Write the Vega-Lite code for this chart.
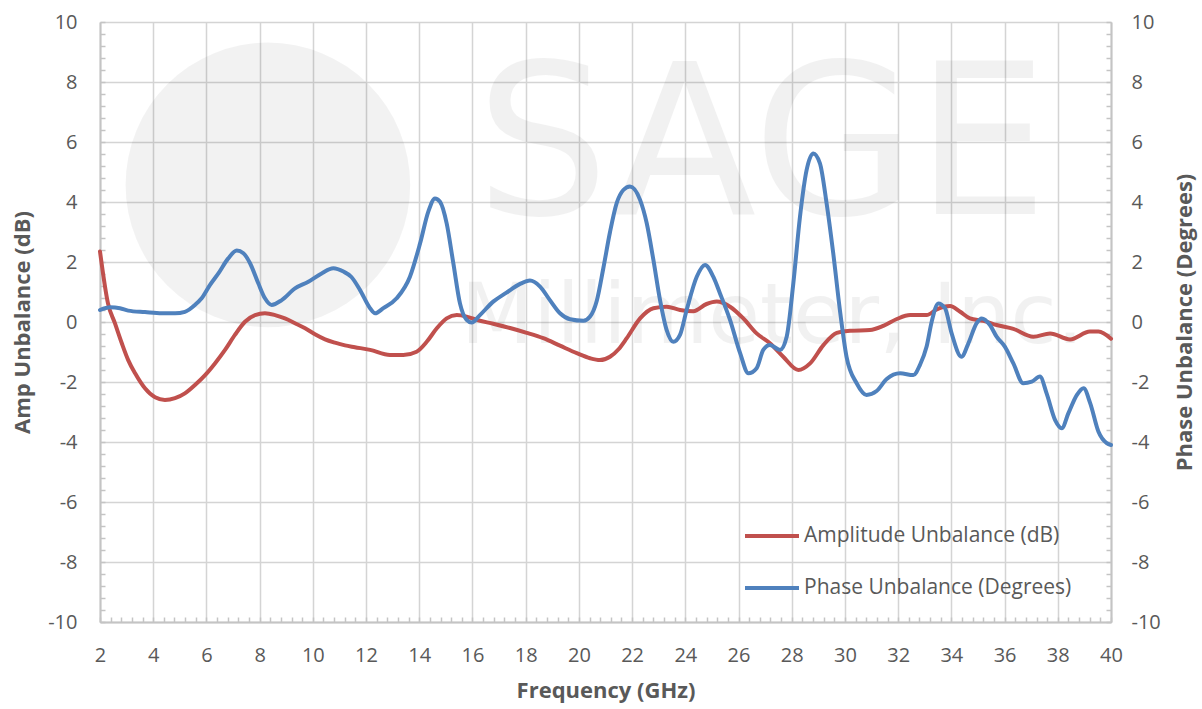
{
  "$schema": "https://vega.github.io/schema/vega-lite/v6.json",
  "width": 1011,
  "height": 600,
  "autosize": {"type": "none"},
  "padding": {"left": 100, "top": 22, "right": 91, "bottom": 87},
  "background": "white",
  "config": {
    "font": "Open Sans",
    "view": {"stroke": null},
    "axis": {
      "labelFont": "Open Sans",
      "labelFontSize": 20,
      "labelColor": "#595959",
      "titleFont": "Open Sans",
      "titleFontSize": 22,
      "titleFontWeight": "bold",
      "titleColor": "#595959",
      "domainColor": "#c4c4c4",
      "domainWidth": 2,
      "gridColor": "#d4d4d4",
      "gridWidth": 1.5,
      "tickColor": "#c4c4c4",
      "tickWidth": 1.5,
      "tickSize": -5,
      "tickCount": 500,
      "labelOverlap": false,
      "labelFlush": false,
      "labelBound": false
    }
  },
  "datasets": {
    "amp": [
      {"f": 2.0, "v": 2.35, "s": "Amplitude Unbalance (dB)"},
      {"f": 2.3, "v": 0.62, "s": "Amplitude Unbalance (dB)"},
      {"f": 2.56, "v": -0.04, "s": "Amplitude Unbalance (dB)"},
      {"f": 2.82, "v": -0.71, "s": "Amplitude Unbalance (dB)"},
      {"f": 3.06, "v": -1.27, "s": "Amplitude Unbalance (dB)"},
      {"f": 3.32, "v": -1.71, "s": "Amplitude Unbalance (dB)"},
      {"f": 3.69, "v": -2.21, "s": "Amplitude Unbalance (dB)"},
      {"f": 4.07, "v": -2.51, "s": "Amplitude Unbalance (dB)"},
      {"f": 4.44, "v": -2.6, "s": "Amplitude Unbalance (dB)"},
      {"f": 4.82, "v": -2.54, "s": "Amplitude Unbalance (dB)"},
      {"f": 5.19, "v": -2.38, "s": "Amplitude Unbalance (dB)"},
      {"f": 5.57, "v": -2.1, "s": "Amplitude Unbalance (dB)"},
      {"f": 5.95, "v": -1.77, "s": "Amplitude Unbalance (dB)"},
      {"f": 6.32, "v": -1.38, "s": "Amplitude Unbalance (dB)"},
      {"f": 6.7, "v": -0.93, "s": "Amplitude Unbalance (dB)"},
      {"f": 7.07, "v": -0.43, "s": "Amplitude Unbalance (dB)"},
      {"f": 7.45, "v": 0.01, "s": "Amplitude Unbalance (dB)"},
      {"f": 7.83, "v": 0.23, "s": "Amplitude Unbalance (dB)"},
      {"f": 8.2, "v": 0.29, "s": "Amplitude Unbalance (dB)"},
      {"f": 8.58, "v": 0.23, "s": "Amplitude Unbalance (dB)"},
      {"f": 8.95, "v": 0.12, "s": "Amplitude Unbalance (dB)"},
      {"f": 9.33, "v": -0.04, "s": "Amplitude Unbalance (dB)"},
      {"f": 9.71, "v": -0.21, "s": "Amplitude Unbalance (dB)"},
      {"f": 10.08, "v": -0.41, "s": "Amplitude Unbalance (dB)"},
      {"f": 10.46, "v": -0.58, "s": "Amplitude Unbalance (dB)"},
      {"f": 10.83, "v": -0.69, "s": "Amplitude Unbalance (dB)"},
      {"f": 11.21, "v": -0.78, "s": "Amplitude Unbalance (dB)"},
      {"f": 11.58, "v": -0.84, "s": "Amplitude Unbalance (dB)"},
      {"f": 12.15, "v": -0.93, "s": "Amplitude Unbalance (dB)"},
      {"f": 12.9, "v": -1.1, "s": "Amplitude Unbalance (dB)"},
      {"f": 13.4, "v": -1.1, "s": "Amplitude Unbalance (dB)"},
      {"f": 13.9, "v": -0.99, "s": "Amplitude Unbalance (dB)"},
      {"f": 14.28, "v": -0.66, "s": "Amplitude Unbalance (dB)"},
      {"f": 14.66, "v": -0.21, "s": "Amplitude Unbalance (dB)"},
      {"f": 15.03, "v": 0.12, "s": "Amplitude Unbalance (dB)"},
      {"f": 15.41, "v": 0.23, "s": "Amplitude Unbalance (dB)"},
      {"f": 15.78, "v": 0.18, "s": "Amplitude Unbalance (dB)"},
      {"f": 16.16, "v": 0.07, "s": "Amplitude Unbalance (dB)"},
      {"f": 16.78, "v": -0.06, "s": "Amplitude Unbalance (dB)"},
      {"f": 17.41, "v": -0.2, "s": "Amplitude Unbalance (dB)"},
      {"f": 18.04, "v": -0.36, "s": "Amplitude Unbalance (dB)"},
      {"f": 18.66, "v": -0.54, "s": "Amplitude Unbalance (dB)"},
      {"f": 19.29, "v": -0.79, "s": "Amplitude Unbalance (dB)"},
      {"f": 19.92, "v": -1.04, "s": "Amplitude Unbalance (dB)"},
      {"f": 20.42, "v": -1.21, "s": "Amplitude Unbalance (dB)"},
      {"f": 20.79, "v": -1.27, "s": "Amplitude Unbalance (dB)"},
      {"f": 21.17, "v": -1.16, "s": "Amplitude Unbalance (dB)"},
      {"f": 21.5, "v": -0.9, "s": "Amplitude Unbalance (dB)"},
      {"f": 21.8, "v": -0.54, "s": "Amplitude Unbalance (dB)"},
      {"f": 22.3, "v": 0.12, "s": "Amplitude Unbalance (dB)"},
      {"f": 22.8, "v": 0.46, "s": "Amplitude Unbalance (dB)"},
      {"f": 23.3, "v": 0.51, "s": "Amplitude Unbalance (dB)"},
      {"f": 23.8, "v": 0.4, "s": "Amplitude Unbalance (dB)"},
      {"f": 24.3, "v": 0.36, "s": "Amplitude Unbalance (dB)"},
      {"f": 24.8, "v": 0.6, "s": "Amplitude Unbalance (dB)"},
      {"f": 25.18, "v": 0.68, "s": "Amplitude Unbalance (dB)"},
      {"f": 25.68, "v": 0.51, "s": "Amplitude Unbalance (dB)"},
      {"f": 26.18, "v": 0.12, "s": "Amplitude Unbalance (dB)"},
      {"f": 26.68, "v": -0.38, "s": "Amplitude Unbalance (dB)"},
      {"f": 27.18, "v": -0.71, "s": "Amplitude Unbalance (dB)"},
      {"f": 27.68, "v": -1.16, "s": "Amplitude Unbalance (dB)"},
      {"f": 28.25, "v": -1.6, "s": "Amplitude Unbalance (dB)"},
      {"f": 28.69, "v": -1.38, "s": "Amplitude Unbalance (dB)"},
      {"f": 29.19, "v": -0.77, "s": "Amplitude Unbalance (dB)"},
      {"f": 29.69, "v": -0.36, "s": "Amplitude Unbalance (dB)"},
      {"f": 30.19, "v": -0.29, "s": "Amplitude Unbalance (dB)"},
      {"f": 30.94, "v": -0.27, "s": "Amplitude Unbalance (dB)"},
      {"f": 31.44, "v": -0.13, "s": "Amplitude Unbalance (dB)"},
      {"f": 31.95, "v": 0.1, "s": "Amplitude Unbalance (dB)"},
      {"f": 32.45, "v": 0.23, "s": "Amplitude Unbalance (dB)"},
      {"f": 33.07, "v": 0.23, "s": "Amplitude Unbalance (dB)"},
      {"f": 33.45, "v": 0.42, "s": "Amplitude Unbalance (dB)"},
      {"f": 33.95, "v": 0.53, "s": "Amplitude Unbalance (dB)"},
      {"f": 34.33, "v": 0.34, "s": "Amplitude Unbalance (dB)"},
      {"f": 34.7, "v": 0.12, "s": "Amplitude Unbalance (dB)"},
      {"f": 35.2, "v": 0.04, "s": "Amplitude Unbalance (dB)"},
      {"f": 35.7, "v": -0.1, "s": "Amplitude Unbalance (dB)"},
      {"f": 36.33, "v": -0.23, "s": "Amplitude Unbalance (dB)"},
      {"f": 37.08, "v": -0.49, "s": "Amplitude Unbalance (dB)"},
      {"f": 37.71, "v": -0.38, "s": "Amplitude Unbalance (dB)"},
      {"f": 38.46, "v": -0.58, "s": "Amplitude Unbalance (dB)"},
      {"f": 39.21, "v": -0.32, "s": "Amplitude Unbalance (dB)"},
      {"f": 39.53, "v": -0.32, "s": "Amplitude Unbalance (dB)"},
      {"f": 40.0, "v": -0.56, "s": "Amplitude Unbalance (dB)"}
    ],
    "phase": [
      {"f": 2.0, "v": 0.4, "s": "Phase Unbalance (Degrees)"},
      {"f": 2.38, "v": 0.49, "s": "Phase Unbalance (Degrees)"},
      {"f": 2.75, "v": 0.46, "s": "Phase Unbalance (Degrees)"},
      {"f": 3.06, "v": 0.38, "s": "Phase Unbalance (Degrees)"},
      {"f": 3.69, "v": 0.33, "s": "Phase Unbalance (Degrees)"},
      {"f": 4.32, "v": 0.29, "s": "Phase Unbalance (Degrees)"},
      {"f": 4.82, "v": 0.29, "s": "Phase Unbalance (Degrees)"},
      {"f": 5.19, "v": 0.34, "s": "Phase Unbalance (Degrees)"},
      {"f": 5.57, "v": 0.57, "s": "Phase Unbalance (Degrees)"},
      {"f": 5.82, "v": 0.79, "s": "Phase Unbalance (Degrees)"},
      {"f": 6.13, "v": 1.23, "s": "Phase Unbalance (Degrees)"},
      {"f": 6.45, "v": 1.62, "s": "Phase Unbalance (Degrees)"},
      {"f": 6.82, "v": 2.12, "s": "Phase Unbalance (Degrees)"},
      {"f": 7.14, "v": 2.38, "s": "Phase Unbalance (Degrees)"},
      {"f": 7.39, "v": 2.29, "s": "Phase Unbalance (Degrees)"},
      {"f": 7.64, "v": 1.96, "s": "Phase Unbalance (Degrees)"},
      {"f": 7.95, "v": 1.29, "s": "Phase Unbalance (Degrees)"},
      {"f": 8.2, "v": 0.79, "s": "Phase Unbalance (Degrees)"},
      {"f": 8.45, "v": 0.57, "s": "Phase Unbalance (Degrees)"},
      {"f": 8.83, "v": 0.73, "s": "Phase Unbalance (Degrees)"},
      {"f": 9.33, "v": 1.12, "s": "Phase Unbalance (Degrees)"},
      {"f": 9.83, "v": 1.34, "s": "Phase Unbalance (Degrees)"},
      {"f": 10.33, "v": 1.62, "s": "Phase Unbalance (Degrees)"},
      {"f": 10.77, "v": 1.79, "s": "Phase Unbalance (Degrees)"},
      {"f": 11.15, "v": 1.68, "s": "Phase Unbalance (Degrees)"},
      {"f": 11.45, "v": 1.5, "s": "Phase Unbalance (Degrees)"},
      {"f": 11.77, "v": 1.07, "s": "Phase Unbalance (Degrees)"},
      {"f": 12.15, "v": 0.46, "s": "Phase Unbalance (Degrees)"},
      {"f": 12.34, "v": 0.29, "s": "Phase Unbalance (Degrees)"},
      {"f": 12.65, "v": 0.46, "s": "Phase Unbalance (Degrees)"},
      {"f": 13.15, "v": 0.79, "s": "Phase Unbalance (Degrees)"},
      {"f": 13.65, "v": 1.51, "s": "Phase Unbalance (Degrees)"},
      {"f": 14.03, "v": 2.62, "s": "Phase Unbalance (Degrees)"},
      {"f": 14.34, "v": 3.68, "s": "Phase Unbalance (Degrees)"},
      {"f": 14.59, "v": 4.12, "s": "Phase Unbalance (Degrees)"},
      {"f": 14.78, "v": 4.01, "s": "Phase Unbalance (Degrees)"},
      {"f": 15.03, "v": 3.29, "s": "Phase Unbalance (Degrees)"},
      {"f": 15.28, "v": 1.96, "s": "Phase Unbalance (Degrees)"},
      {"f": 15.53, "v": 0.62, "s": "Phase Unbalance (Degrees)"},
      {"f": 15.78, "v": 0.07, "s": "Phase Unbalance (Degrees)"},
      {"f": 15.97, "v": -0.02, "s": "Phase Unbalance (Degrees)"},
      {"f": 16.28, "v": 0.23, "s": "Phase Unbalance (Degrees)"},
      {"f": 16.78, "v": 0.68, "s": "Phase Unbalance (Degrees)"},
      {"f": 17.28, "v": 0.98, "s": "Phase Unbalance (Degrees)"},
      {"f": 17.79, "v": 1.27, "s": "Phase Unbalance (Degrees)"},
      {"f": 18.16, "v": 1.38, "s": "Phase Unbalance (Degrees)"},
      {"f": 18.54, "v": 1.18, "s": "Phase Unbalance (Degrees)"},
      {"f": 18.91, "v": 0.73, "s": "Phase Unbalance (Degrees)"},
      {"f": 19.29, "v": 0.29, "s": "Phase Unbalance (Degrees)"},
      {"f": 19.67, "v": 0.09, "s": "Phase Unbalance (Degrees)"},
      {"f": 20.17, "v": 0.04, "s": "Phase Unbalance (Degrees)"},
      {"f": 20.42, "v": 0.18, "s": "Phase Unbalance (Degrees)"},
      {"f": 20.67, "v": 0.7, "s": "Phase Unbalance (Degrees)"},
      {"f": 20.92, "v": 1.8, "s": "Phase Unbalance (Degrees)"},
      {"f": 21.17, "v": 3.0, "s": "Phase Unbalance (Degrees)"},
      {"f": 21.42, "v": 3.96, "s": "Phase Unbalance (Degrees)"},
      {"f": 21.67, "v": 4.4, "s": "Phase Unbalance (Degrees)"},
      {"f": 21.92, "v": 4.52, "s": "Phase Unbalance (Degrees)"},
      {"f": 22.3, "v": 4.07, "s": "Phase Unbalance (Degrees)"},
      {"f": 22.55, "v": 3.29, "s": "Phase Unbalance (Degrees)"},
      {"f": 22.8, "v": 2.07, "s": "Phase Unbalance (Degrees)"},
      {"f": 23.05, "v": 0.73, "s": "Phase Unbalance (Degrees)"},
      {"f": 23.3, "v": -0.27, "s": "Phase Unbalance (Degrees)"},
      {"f": 23.55, "v": -0.66, "s": "Phase Unbalance (Degrees)"},
      {"f": 23.8, "v": -0.43, "s": "Phase Unbalance (Degrees)"},
      {"f": 24.05, "v": 0.4, "s": "Phase Unbalance (Degrees)"},
      {"f": 24.43, "v": 1.51, "s": "Phase Unbalance (Degrees)"},
      {"f": 24.74, "v": 1.9, "s": "Phase Unbalance (Degrees)"},
      {"f": 25.05, "v": 1.51, "s": "Phase Unbalance (Degrees)"},
      {"f": 25.3, "v": 0.96, "s": "Phase Unbalance (Degrees)"},
      {"f": 25.68, "v": 0.07, "s": "Phase Unbalance (Degrees)"},
      {"f": 26.06, "v": -1.04, "s": "Phase Unbalance (Degrees)"},
      {"f": 26.37, "v": -1.71, "s": "Phase Unbalance (Degrees)"},
      {"f": 26.68, "v": -1.54, "s": "Phase Unbalance (Degrees)"},
      {"f": 26.93, "v": -0.93, "s": "Phase Unbalance (Degrees)"},
      {"f": 27.18, "v": -0.77, "s": "Phase Unbalance (Degrees)"},
      {"f": 27.56, "v": -0.93, "s": "Phase Unbalance (Degrees)"},
      {"f": 27.81, "v": -0.49, "s": "Phase Unbalance (Degrees)"},
      {"f": 28.06, "v": 1.29, "s": "Phase Unbalance (Degrees)"},
      {"f": 28.31, "v": 3.51, "s": "Phase Unbalance (Degrees)"},
      {"f": 28.56, "v": 5.07, "s": "Phase Unbalance (Degrees)"},
      {"f": 28.81, "v": 5.62, "s": "Phase Unbalance (Degrees)"},
      {"f": 29.06, "v": 5.29, "s": "Phase Unbalance (Degrees)"},
      {"f": 29.31, "v": 3.96, "s": "Phase Unbalance (Degrees)"},
      {"f": 29.56, "v": 2.29, "s": "Phase Unbalance (Degrees)"},
      {"f": 29.81, "v": 0.4, "s": "Phase Unbalance (Degrees)"},
      {"f": 30.06, "v": -1.16, "s": "Phase Unbalance (Degrees)"},
      {"f": 30.44, "v": -2.04, "s": "Phase Unbalance (Degrees)"},
      {"f": 30.81, "v": -2.43, "s": "Phase Unbalance (Degrees)"},
      {"f": 31.19, "v": -2.3, "s": "Phase Unbalance (Degrees)"},
      {"f": 31.57, "v": -1.9, "s": "Phase Unbalance (Degrees)"},
      {"f": 32.07, "v": -1.71, "s": "Phase Unbalance (Degrees)"},
      {"f": 32.57, "v": -1.77, "s": "Phase Unbalance (Degrees)"},
      {"f": 32.82, "v": -1.43, "s": "Phase Unbalance (Degrees)"},
      {"f": 33.07, "v": -0.82, "s": "Phase Unbalance (Degrees)"},
      {"f": 33.26, "v": 0.01, "s": "Phase Unbalance (Degrees)"},
      {"f": 33.51, "v": 0.62, "s": "Phase Unbalance (Degrees)"},
      {"f": 33.76, "v": 0.46, "s": "Phase Unbalance (Degrees)"},
      {"f": 34.01, "v": -0.38, "s": "Phase Unbalance (Degrees)"},
      {"f": 34.38, "v": -1.16, "s": "Phase Unbalance (Degrees)"},
      {"f": 34.64, "v": -0.71, "s": "Phase Unbalance (Degrees)"},
      {"f": 34.95, "v": -0.04, "s": "Phase Unbalance (Degrees)"},
      {"f": 35.14, "v": 0.12, "s": "Phase Unbalance (Degrees)"},
      {"f": 35.45, "v": -0.1, "s": "Phase Unbalance (Degrees)"},
      {"f": 35.7, "v": -0.49, "s": "Phase Unbalance (Degrees)"},
      {"f": 36.01, "v": -0.82, "s": "Phase Unbalance (Degrees)"},
      {"f": 36.33, "v": -1.38, "s": "Phase Unbalance (Degrees)"},
      {"f": 36.7, "v": -2.04, "s": "Phase Unbalance (Degrees)"},
      {"f": 37.02, "v": -1.99, "s": "Phase Unbalance (Degrees)"},
      {"f": 37.33, "v": -1.82, "s": "Phase Unbalance (Degrees)"},
      {"f": 37.58, "v": -2.38, "s": "Phase Unbalance (Degrees)"},
      {"f": 37.9, "v": -3.27, "s": "Phase Unbalance (Degrees)"},
      {"f": 38.15, "v": -3.54, "s": "Phase Unbalance (Degrees)"},
      {"f": 38.4, "v": -3.04, "s": "Phase Unbalance (Degrees)"},
      {"f": 38.72, "v": -2.43, "s": "Phase Unbalance (Degrees)"},
      {"f": 38.97, "v": -2.21, "s": "Phase Unbalance (Degrees)"},
      {"f": 39.22, "v": -2.71, "s": "Phase Unbalance (Degrees)"},
      {"f": 39.53, "v": -3.66, "s": "Phase Unbalance (Degrees)"},
      {"f": 39.84, "v": -4.04, "s": "Phase Unbalance (Degrees)"},
      {"f": 40.0, "v": -4.1, "s": "Phase Unbalance (Degrees)"}
    ],
    "mark1": [{"t": "SAGE"}],
    "mark2": [{"t": "Millimeter, Inc."}],
    "logo": [{"t": "logo"}]
  },
  "layer": [
    {
      "data": {"name": "logo"},
      "mark": {"type": "point", "shape": "circle", "filled": true, "color": "#000000", "opacity": 0.05, "size": 81000},
      "encoding": {
        "x": {"datum": 8.31, "type": "quantitative"},
        "y": {"datum": 4.57, "type": "quantitative", "scale": {"domain": [-10, 10], "nice": false, "zero": false}, "axis": null}
      }
    },
    {
      "data": {"name": "mark1"},
      "mark": {"type": "text", "font": "DejaVu Sans", "fontSize": 210, "align": "center", "baseline": "alphabetic", "color": "#000000", "opacity": 0.05},
      "encoding": {
        "text": {"field": "t"},
        "x": {"datum": 26.88, "type": "quantitative"},
        "y": {"datum": 3.6, "type": "quantitative", "scale": {"domain": [-10, 10], "nice": false, "zero": false}, "axis": null}
      }
    },
    {
      "data": {"name": "mark2"},
      "mark": {"type": "text", "font": "DejaVu Sans", "fontSize": 84, "align": "center", "baseline": "alphabetic", "color": "#000000", "opacity": 0.05},
      "encoding": {
        "text": {"field": "t"},
        "x": {"datum": 27.26, "type": "quantitative"},
        "y": {"datum": -0.7, "type": "quantitative", "scale": {"domain": [-10, 10], "nice": false, "zero": false}, "axis": null}
      }
    },
    {
      "data": {"name": "amp"},
      "mark": {"type": "line", "interpolate": "monotone", "strokeWidth": 4, "strokeCap": "round"},
      "encoding": {
        "x": {
          "field": "f",
          "type": "quantitative",
          "scale": {"domain": [2, 40], "nice": false, "zero": false},
          "axis": {
            "title": "Frequency (GHz)",
            "values": [2,2.4,2.8,3.2,3.6,4,4.4,4.8,5.2,5.6,6,6.4,6.8,7.2,7.6,8,8.4,8.8,9.2,9.6,10,10.4,10.8,11.2,11.6,12,12.4,12.8,13.2,13.6,14,14.4,14.8,15.2,15.6,16,16.4,16.8,17.2,17.6,18,18.4,18.8,19.2,19.6,20,20.4,20.8,21.2,21.6,22,22.4,22.8,23.2,23.6,24,24.4,24.8,25.2,25.6,26,26.4,26.8,27.2,27.6,28,28.4,28.8,29.2,29.6,30,30.4,30.8,31.2,31.6,32,32.4,32.8,33.2,33.6,34,34.4,34.8,35.2,35.6,36,36.4,36.8,37.2,37.6,38,38.4,38.8,39.2,39.6,40],
            "tickCount": 500,
            "labelExpr": "abs(datum.value/2 - round(datum.value/2)) < 0.01 ? '' + datum.value : ''",
            "grid": true,
            "gridOpacity": {"condition": {"test": "abs(datum.value/2 - round(datum.value/2)) < 0.01", "value": 1}, "value": 0},
            "labelPadding": 28,
            "titlePadding": 15
          }
        },
        "y": {
          "field": "v",
          "type": "quantitative",
          "scale": {"domain": [-10, 10], "nice": false, "zero": false},
          "axis": {
            "orient": "left",
            "title": "Amp Unbalance (dB)",
            "values": [-10,-9.6,-9.2,-8.8,-8.4,-8,-7.6,-7.2,-6.8,-6.4,-6,-5.6,-5.2,-4.8,-4.4,-4,-3.6,-3.2,-2.8,-2.4,-2,-1.6,-1.2,-0.8,-0.4,0,0.4,0.8,1.2,1.6,2,2.4,2.8,3.2,3.6,4,4.4,4.8,5.2,5.6,6,6.4,6.8,7.2,7.6,8,8.4,8.8,9.2,9.6,10],
            "tickCount": 500,
            "labelExpr": "abs(datum.value/2 - round(datum.value/2)) < 0.01 ? '' + datum.value : ''",
            "grid": true,
            "gridOpacity": {"condition": {"test": "abs(datum.value/2 - round(datum.value/2)) < 0.01", "value": 1}, "value": 0},
            "labelPadding": 28,
            "titlePadding": 13
          }
        },
        "color": {
          "field": "s",
          "type": "nominal",
          "scale": {"domain": ["Amplitude Unbalance (dB)", "Phase Unbalance (Degrees)"], "range": ["#C0504D", "#4F81BD"]},
          "legend": {
            "orient": "none",
            "legendX": 643,
            "legendY": 485,
            "title": null,
            "padding": 0,
            "symbolType": "stroke",
            "symbolSize": 2916,
            "symbolStrokeWidth": 4,
            "labelFont": "Open Sans",
            "labelFontSize": 21,
            "labelColor": "#595959",
            "labelOffset": 3,
            "rowPadding": 13,
            "labelLimit": 400
          }
        }
      }
    },
    {
      "data": {"name": "phase"},
      "mark": {"type": "line", "interpolate": "monotone", "strokeWidth": 4, "strokeCap": "round"},
      "encoding": {
        "x": {"field": "f", "type": "quantitative"},
        "y": {
          "field": "v",
          "type": "quantitative",
          "scale": {"domain": [-10, 10], "nice": false, "zero": false},
          "axis": {
            "orient": "right",
            "title": "Phase Unbalance (Degrees)",
            "titleAngle": 270,
            "values": [-10,-9.6,-9.2,-8.8,-8.4,-8,-7.6,-7.2,-6.8,-6.4,-6,-5.6,-5.2,-4.8,-4.4,-4,-3.6,-3.2,-2.8,-2.4,-2,-1.6,-1.2,-0.8,-0.4,0,0.4,0.8,1.2,1.6,2,2.4,2.8,3.2,3.6,4,4.4,4.8,5.2,5.6,6,6.4,6.8,7.2,7.6,8,8.4,8.8,9.2,9.6,10],
            "tickCount": 500,
            "labelExpr": "abs(datum.value/2 - round(datum.value/2)) < 0.01 ? '' + datum.value : ''",
            "grid": false,
            "labelPadding": 25,
            "titlePadding": 36
          }
        },
        "color": {"field": "s", "type": "nominal"}
      }
    }
  ],
  "resolve": {"scale": {"y": "independent"}}
}
